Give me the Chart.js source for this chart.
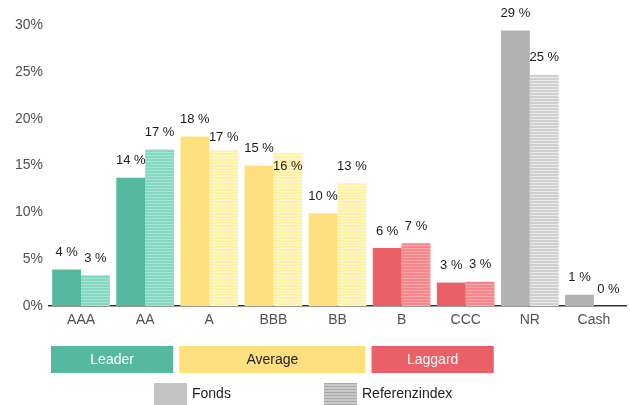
<!DOCTYPE html>
<html>
<head>
<meta charset="utf-8">
<script src="https://cdn.jsdelivr.net/npm/chart.js@4"></script>
<style>
  html, body { margin: 0; padding: 0; background: #fff; }
  #wrap { width: 630px; height: 405px; }
</style>
</head>
<body>
<div id="wrap"><canvas id="ratingChart" width="630" height="405"></canvas></div>
<script>
// ===== DATA =====
const ratings = ['AAA', 'AA', 'A', 'BBB', 'BB', 'B', 'CCC', 'NR', 'Cash'];
const fondsValues = [3.9, 13.7, 18.1, 15.0, 9.9, 6.2, 2.5, 29.4, 1.2];
const referenzValues = [3.3, 16.7, 16.6, 16.3, 13.1, 6.7, 2.6, 24.7, 0];
const yTicks = [0, 5, 10, 15, 20, 25, 30];

// rating buckets shown under the axis
const groupNames = ['Leader', 'Average', 'Laggard'];
const groupFirst = ['AAA', 'A', 'B'];
const groupLast = ['AA', 'BB', 'CCC'];
const seriesNames = ['Fonds', 'Referenzindex'];

// ===== COLOURS =====
const FONT = 'Arial, "Liberation Sans", sans-serif';
const groupColor = { Leader: '#55B9A0', Average: '#FFE07E', Laggard: '#EB5F67' };
const groupText = { Leader: '#ffffff', Average: '#222222', Laggard: '#ffffff' };
const fundColor = ['#55B9A0', '#55B9A0', '#FFE07E', '#FFE07E', '#FFE07E', '#EB5F67', '#EB5F67', '#B3B3B3', '#B3B3B3'];
const refBase = ['#84D8C2', '#84D8C2', '#FFF0A6', '#FFF0A6', '#FFF0A6', '#F5878C', '#F5878C', '#CFCFCF', '#CFCFCF'];
const refLine = ['#A6E5D4', '#A6E5D4', '#FFF7CE', '#FFF7CE', '#FFF7CE', '#F9A8AB', '#F9A8AB', '#ECECEC', '#ECECEC'];

function stripes(base, line) {
  const c = document.createElement('canvas');
  c.width = 4; c.height = 3;
  const g = c.getContext('2d');
  g.fillStyle = base; g.fillRect(0, 0, 4, 3);
  g.fillStyle = line; g.fillRect(0, 2, 4, 1);
  return g.createPattern(c, 'repeat');
}
const refPatterns = refBase.map((b, i) => stripes(b, refLine[i]));

// ===== PLUGIN: value labels + bottom legend =====
const extrasPlugin = {
  id: 'extras',
  afterDatasetsDraw(chart) {
    const ctx = chart.ctx;
    const xs = chart.scales.x;
    ctx.save();

    // value labels, pushed down when two labels collide
    ctx.font = '13px ' + FONT;
    ctx.fillStyle = '#1a1a1a';
    ctx.textAlign = 'center';
    ctx.textBaseline = 'middle';
    ratings.forEach((r, i) => {
      const placed = [];
      chart.data.datasets.forEach((ds, d) => {
        const bar = chart.getDatasetMeta(d).data[i];
        const txt = Math.round(ds.data[i]) + ' %';
        const w = ctx.measureText(txt).width;
        let y = bar.y - 17;
        placed.forEach(p => {
          const xOver = Math.abs(p.x - bar.x) < (p.w + w) / 2 + 2;
          const yOver = Math.abs(p.y - y) < 15;
          if (xOver && yOver) y = p.y + 18;
        });
        ctx.fillText(txt, bar.x, y);
        placed.push({ x: bar.x, y, w });
      });
    });

    // group bands
    const half = xs.width / ratings.length / 2;
    ctx.font = '14px ' + FONT;
    groupNames.forEach((name, g) => {
      const x0 = xs.getPixelForValue(ratings.indexOf(groupFirst[g])) - half + 2;
      const x1 = xs.getPixelForValue(ratings.indexOf(groupLast[g])) + half - 4;
      ctx.fillStyle = groupColor[name];
      ctx.fillRect(x0, 346, x1 - x0, 27);
      ctx.fillStyle = groupText[name];
      ctx.fillText(name, (x0 + x1) / 2, 360);
    });

    // series legend
    ctx.textAlign = 'left';
    ctx.fillStyle = '#C4C4C4';
    ctx.fillRect(154, 383, 33, 22);
    ctx.fillStyle = stripes('#C8C8C8', '#A9A9A9');
    ctx.fillRect(324, 383, 33, 22);
    ctx.fillStyle = '#222';
    ctx.fillText(seriesNames[0], 192, 394);
    ctx.fillText(seriesNames[1], 362, 394);
    ctx.restore();
  }
};

// ===== CHART =====
const ctx = document.getElementById('ratingChart').getContext('2d');
new Chart(ctx, {
  type: 'bar',
  data: {
    labels: ratings,
    datasets: [
      { label: seriesNames[0], data: fondsValues, backgroundColor: fundColor },
      { label: seriesNames[1], data: referenzValues, backgroundColor: refPatterns },
    ]
  },
  options: {
    responsive: false,
    animation: false,
    layout: { padding: { top: 25, right: 4, bottom: 65, left: 0 } },
    datasets: { bar: { categoryPercentage: 0.9, barPercentage: 1.0, borderWidth: 0 } },
    plugins: { legend: { display: false }, tooltip: { enabled: false } },
    scales: {
      x: {
        grid: { display: false, drawTicks: false },
        border: { display: true, color: '#333', width: 1.5 },
        ticks: { color: '#505050', font: { family: FONT, size: 14 }, padding: 6, maxRotation: 0 },
        afterFit: s => { s.height = 34; },
      },
      y: {
        min: 0, max: 30,
        grid: { display: false, drawTicks: false },
        border: { display: false },
        afterBuildTicks: s => { s.ticks = yTicks.map(v => ({ value: v })); },
        ticks: { color: '#505050', font: { family: FONT, size: 14 }, padding: 6, callback: v => v + '%' },
        afterFit: s => { s.width = 49; },
      }
    }
  },
  plugins: [extrasPlugin]
});
</script>
</body>
</html>
